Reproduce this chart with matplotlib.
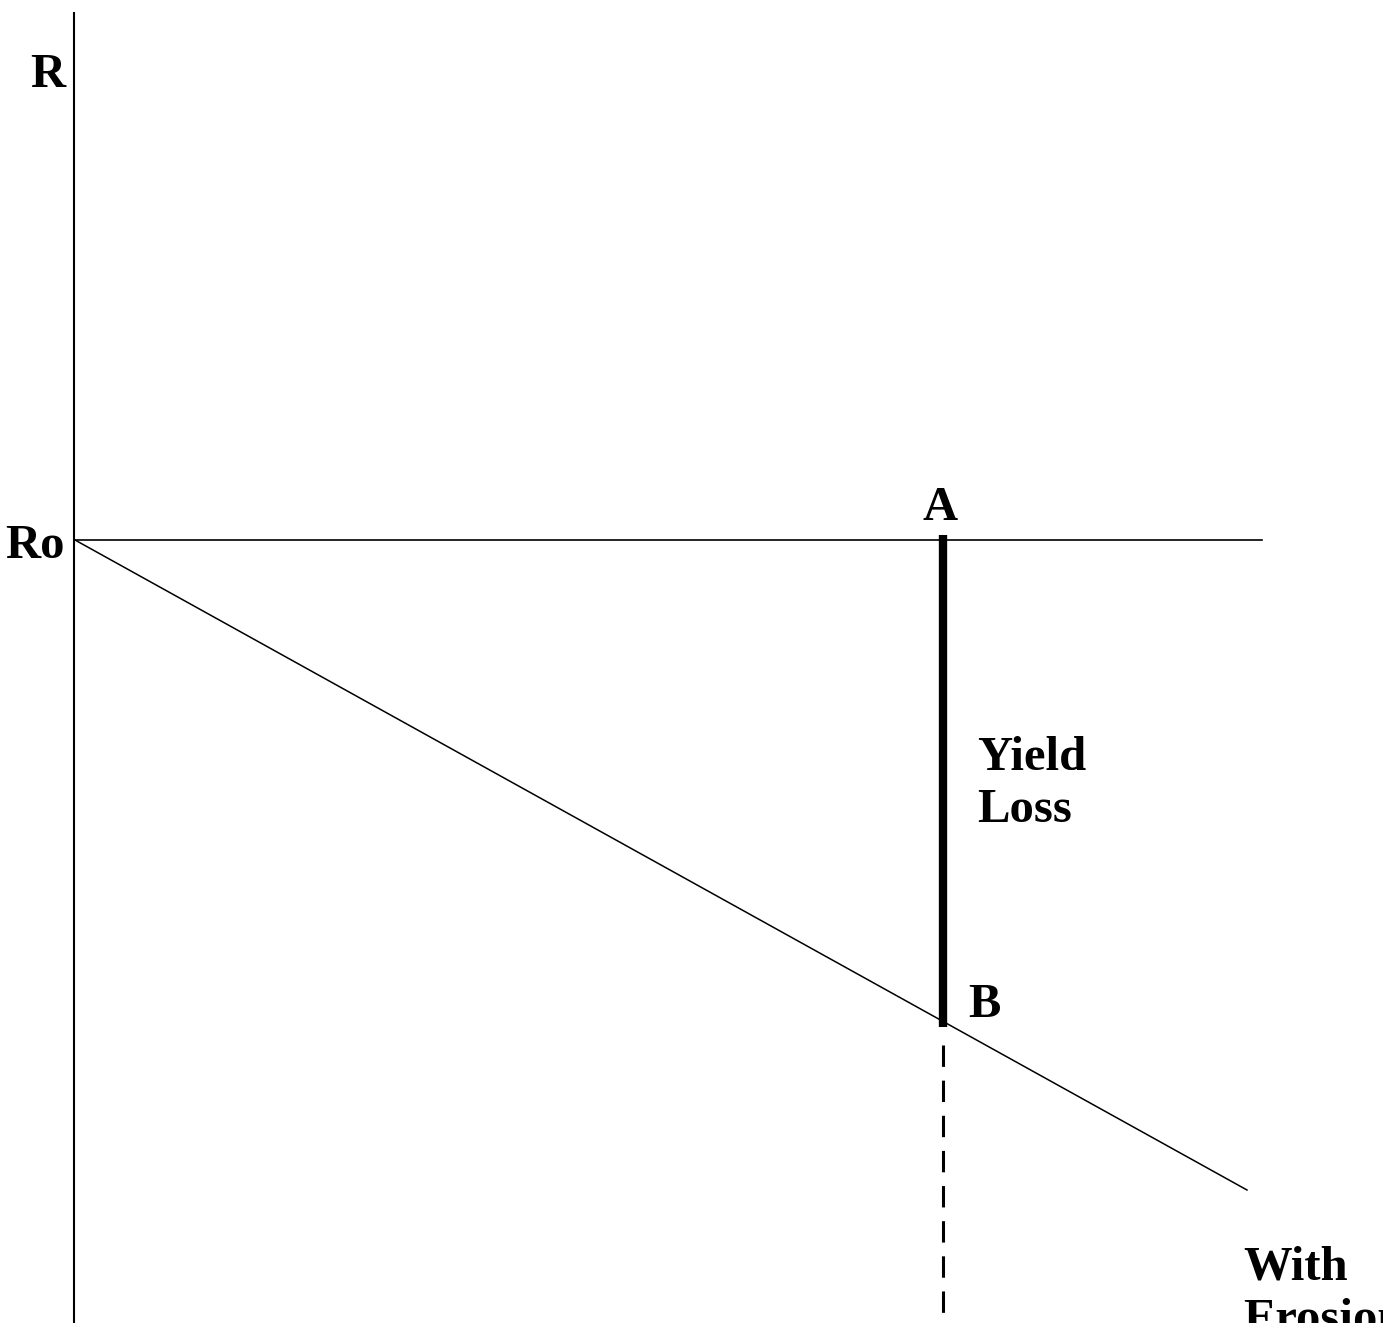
import matplotlib
matplotlib.use("Agg")
import matplotlib.pyplot as plt

# Data (y measured upward, arbitrary units)
axis_x = [74, 74]
axis_y = [0, 1311]
ro_line_x = [75, 1262]
ro_line_y = [783, 783]
erosion_x = [75, 1247]
erosion_y = [783, 133]
loss_x = [943, 943]
loss_y = [788, 296]
drop_x = [943, 943]
drop_y = [278, 0]

labels = {
    "R": (48, 1248),
    "Ro": (35, 777),
    "A": (940, 815),
    "B": (984, 318),
}
# multi-line labels: (text, x, baseline y)
line_labels = [
    ("Yield", 977, 553),
    ("Loss", 977, 501),
    ("With", 1243, 43),
    ("Erosion", 1243, -9),
]

W, H = 1383, 1323
fig = plt.figure(figsize=(W / 100, H / 100), dpi=100)
ax = fig.add_axes([0, 0, 1, 1])
ax.set_xlim(0, W)
ax.set_ylim(0, H)
ax.axis("off")

ax.plot(axis_x, axis_y, color="black", lw=1.5, solid_capstyle="butt")
ax.plot(ro_line_x, ro_line_y, color="black", lw=1.2)
ax.plot(erosion_x, erosion_y, color="black", lw=1.1)
ax.plot(loss_x, loss_y, color="black", lw=6, solid_capstyle="butt")
ax.plot(drop_x, drop_y, color="black", lw=2.2, linestyle=(0, (7, 4.5)))

font = dict(family=["Liberation Serif", "DejaVu Serif"], weight="bold", fontsize=35, color="black")
for t, (x, y) in labels.items():
    ax.text(x, y, t, ha="center", va="center", **font)

for t, x, y in line_labels:
    ax.text(x, y, t, ha="left", va="baseline", clip_on=False, **font)

fig.savefig("out.png", dpi=100)
